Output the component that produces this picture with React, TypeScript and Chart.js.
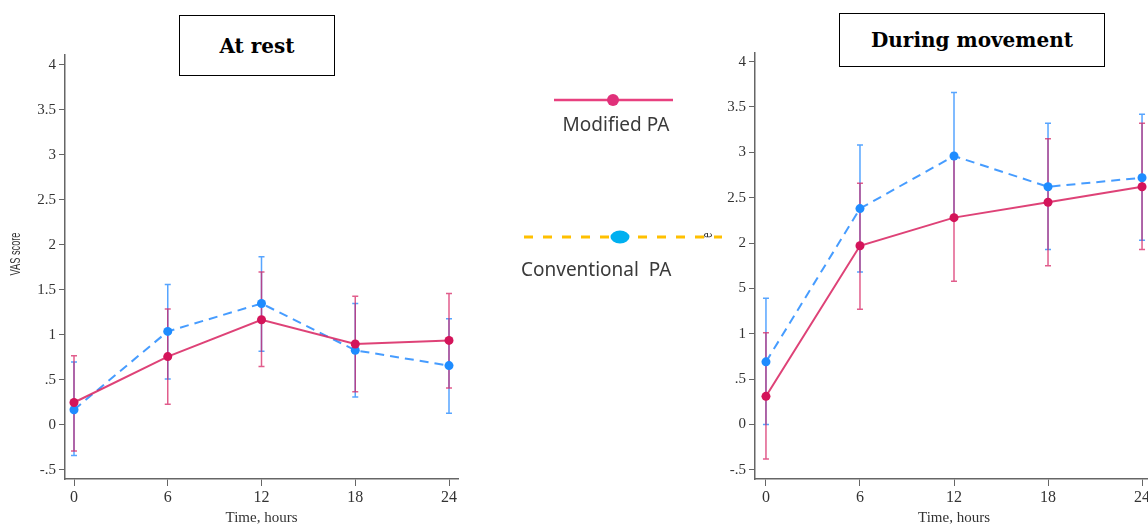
import React, { useEffect, useRef } from 'react';
import { Chart, registerables } from 'chart.js';

Chart.register(...registerables);

// ---------- data ----------
const hours = [0, 6, 12, 18, 24];
const xTickValues = [0, 6, 12, 18, 24];
const yTickValues = [-0.5, 0, 0.5, 1, 1.5, 2, 2.5, 3, 3.5, 4];
const yTickLabels = ['-.5', '0', '.5', '1', '1.5', '2', '2.5', '3', '3.5', '4'];
const seriesNames = ['Modified PA', 'Conventional  PA'];
const panelTitles = ['At rest', 'During movement'];
const xAxisTitle = 'Time, hours';
const yAxisTitle = 'VAS score';

// At rest
const restModified = [0.25, 0.76, 1.17, 0.9, 0.94];
const restModifiedLow = [-0.29, 0.23, 0.65, 0.37, 0.41];
const restModifiedHigh = [0.77, 1.29, 1.7, 1.43, 1.46];
const restConventional = [0.17, 1.04, 1.35, 0.83, 0.66];
const restConventionalLow = [-0.34, 0.51, 0.82, 0.31, 0.13];
const restConventionalHigh = [0.7, 1.56, 1.87, 1.35, 1.18];

// During movement
const moveModified = [0.31, 1.97, 2.28, 2.45, 2.62];
const moveModifiedLow = [-0.38, 1.27, 1.58, 1.75, 1.93];
const moveModifiedHigh = [1.01, 2.66, 2.98, 3.15, 3.32];
const moveConventional = [0.69, 2.38, 2.96, 2.62, 2.72];
const moveConventionalLow = [0.0, 1.68, 2.26, 1.93, 2.03];
const moveConventionalHigh = [1.39, 3.08, 3.66, 3.32, 3.42];

// ---------- styles ----------
const PINK_LINE = 'rgba(218, 40, 100, 0.88)';
const PINK_DOT = '#d4145a';
const PINK_ERR = 'rgba(214, 30, 95, 0.72)';
const BLUE_LINE = 'rgba(50, 145, 255, 0.9)';
const BLUE_DOT = '#1e8cff';
const BLUE_ERR = 'rgba(40, 140, 255, 0.78)';
const AXIS_COLOR = '#666';
const TEXT_COLOR = '#333';
const SERIF = '"Liberation Serif", "Times New Roman", serif';

const errorBarPlugin = {
  id: 'errorBars',
  beforeDatasetsDraw(chart: any, _args: any, opts: any) {
    const { ctx, scales } = chart;
    const x = scales.x;
    const y = scales.y;
    const bars = (opts && opts.bars) || [];
    ctx.save();
    ctx.lineWidth = 1.5;
    for (let b = bars.length - 1; b >= 0; b--) {
      const bar = bars[b];
      ctx.strokeStyle = bar.color;
      bar.x.forEach((xv: number, j: number) => {
        const px = x.getPixelForValue(xv);
        const yl = y.getPixelForValue(bar.low[j]);
        const yh = y.getPixelForValue(bar.high[j]);
        ctx.beginPath();
        ctx.moveTo(px, yl);
        ctx.lineTo(px, yh);
        ctx.moveTo(px - 3, yl);
        ctx.lineTo(px + 3, yl);
        ctx.moveTo(px - 3, yh);
        ctx.lineTo(px + 3, yh);
        ctx.stroke();
      });
    }
    ctx.restore();
  },
};

// rotated, condensed y-axis caption
const axisLabelPlugin = {
  id: 'axisLabel',
  afterDraw(chart: any, _args: any, opts: any) {
    if (!opts || !opts.text) return;
    const ctx = chart.ctx;
    ctx.save();
    ctx.translate(opts.x, opts.y);
    ctx.rotate(-Math.PI / 2);
    ctx.scale(opts.squeeze || 1, 1);
    ctx.font = opts.font;
    ctx.fillStyle = opts.color;
    ctx.textAlign = 'center';
    ctx.textBaseline = 'middle';
    ctx.fillText(opts.text, 0, 0);
    ctx.restore();
  },
};

type Geom = {
  xMin: number;
  xMax: number;
  yMin: number;
  yMax: number;
  padTop: number;
  padRight: number;
  axisWidth: number;
  labelX: number;
  labelY: number;
};

function makeConfig(
  mod: number[],
  modLow: number[],
  modHigh: number[],
  conv: number[],
  convLow: number[],
  convHigh: number[],
  g: Geom
): any {
  const gridOpts = {
    display: true,
    drawOnChartArea: false,
    drawTicks: true,
    color: AXIS_COLOR,
    lineWidth: 1,
  };
  return {
    type: 'line',
    data: {
      datasets: [
        {
          label: seriesNames[0],
          data: hours.map((h, i) => ({ x: h, y: mod[i] })),
          borderColor: PINK_LINE,
          borderWidth: 2,
          pointRadius: 4.5,
          pointHoverRadius: 4.5,
          pointBackgroundColor: PINK_DOT,
          pointBorderWidth: 0,
          fill: false,
          tension: 0,
        },
        {
          label: seriesNames[1],
          data: hours.map((h, i) => ({ x: h, y: conv[i] })),
          borderColor: BLUE_LINE,
          borderWidth: 2,
          borderDash: [9, 6],
          pointRadius: 4.5,
          pointHoverRadius: 4.5,
          pointBackgroundColor: BLUE_DOT,
          pointBorderWidth: 0,
          fill: false,
          tension: 0,
        },
      ],
    },
    options: {
      animation: false,
      responsive: false,
      maintainAspectRatio: false,
      devicePixelRatio: 1,
      events: [],
      layout: { padding: { top: g.padTop, right: g.padRight, left: 0, bottom: 0 } },
      plugins: {
        legend: { display: false },
        tooltip: { enabled: false },
        errorBars: {
          bars: [
            { x: hours, low: modLow, high: modHigh, color: PINK_ERR },
            { x: hours, low: convLow, high: convHigh, color: BLUE_ERR },
          ],
        },
        axisLabel: {
          text: yAxisTitle,
          x: g.labelX,
          y: g.labelY,
          squeeze: 0.66,
          font: '14px "Liberation Sans", Arial, sans-serif',
          color: TEXT_COLOR,
        },
      },
      scales: {
        x: {
          type: 'linear',
          min: g.xMin,
          max: g.xMax,
          afterBuildTicks: (s: any) => {
            s.ticks = xTickValues.map((v) => ({ value: v }));
          },
          afterFit: (s: any) => {
            s.height = 50;
          },
          ticks: {
            font: { family: SERIF, size: 16 },
            color: TEXT_COLOR,
            padding: 2,
            maxRotation: 0,
            autoSkip: false,
            callback: (v: any) => String(v),
          },
          grid: { ...gridOpts, tickLength: 7 },
          border: { display: true, color: AXIS_COLOR, width: 1.5 },
          title: {
            display: true,
            text: xAxisTitle,
            font: { family: SERIF, size: 15 },
            color: TEXT_COLOR,
            padding: { top: 0, bottom: 2 },
          },
        },
        y: {
          type: 'linear',
          min: g.yMin,
          max: g.yMax,
          afterBuildTicks: (s: any) => {
            s.ticks = yTickValues.map((v) => ({ value: v }));
          },
          afterFit: (s: any) => {
            s.width = g.axisWidth;
          },
          ticks: {
            font: { family: SERIF, size: 15 },
            color: TEXT_COLOR,
            padding: 3,
            autoSkip: false,
            callback: (v: any) => {
              const i = yTickValues.findIndex((t) => Math.abs(t - Number(v)) < 1e-9);
              return i >= 0 ? yTickLabels[i] : '';
            },
          },
          grid: { ...gridOpts, tickLength: 6 },
          border: { display: true, color: AXIS_COLOR, width: 1.5 },
          title: { display: false },
        },
      },
    },
    plugins: [errorBarPlugin, axisLabelPlugin],
  };
}

function ChartCanvas(props: { left: number; top: number; width: number; height: number; config: any }) {
  const ref = useRef<HTMLCanvasElement | null>(null);
  useEffect(() => {
    if (!ref.current) return;
    const chart = new Chart(ref.current, props.config);
    return () => chart.destroy();
  }, []);
  return (
    <canvas
      ref={ref}
      width={props.width}
      height={props.height}
      style={{
        position: 'absolute',
        left: props.left,
        top: props.top,
        width: props.width,
        height: props.height,
      }}
    />
  );
}

function TitleBox(props: { left: number; top: number; width: number; height: number; text: string }) {
  return (
    <div
      style={{
        position: 'absolute',
        left: props.left,
        top: props.top,
        width: props.width,
        height: props.height,
        boxSizing: 'border-box',
        border: '1.5px solid #000',
        background: '#fff',
        display: 'flex',
        alignItems: 'center',
        justifyContent: 'center',
        fontFamily: '"DejaVu Serif", serif',
        fontWeight: 700,
        fontSize: 20,
        color: '#000',
      }}
    >
      {props.text}
    </div>
  );
}

const restGeom: Geom = {
  xMin: -0.576,
  xMax: 24.576,
  yMin: -0.6,
  yMax: 4.111,
  padTop: 55,
  padRight: 12,
  axisWidth: 65,
  labelX: 16,
  labelY: 254,
};

const moveGeom: Geom = {
  xMin: -0.7,
  xMax: 24.7,
  yMin: -0.6015,
  yMax: 4.095,
  padTop: 53,
  padRight: 12,
  axisWidth: 65,
  labelX: 18,
  labelY: 254,
};

export default function App() {
  const restConfig = makeConfig(
    restModified,
    restModifiedLow,
    restModifiedHigh,
    restConventional,
    restConventionalLow,
    restConventionalHigh,
    restGeom
  );
  const moveConfig = makeConfig(
    moveModified,
    moveModifiedLow,
    moveModifiedHigh,
    moveConventional,
    moveConventionalLow,
    moveConventionalHigh,
    moveGeom
  );
  const legendFont = '"Noto Sans", "Open Sans", sans-serif';
  return (
    <div
      style={{
        position: 'fixed',
        left: 0,
        top: 0,
        width: 1148,
        height: 529,
        background: '#fff',
        overflow: 'hidden',
      }}
    >
      <ChartCanvas left={0} top={0} width={470} height={529} config={restConfig} />
      <ChartCanvas left={690} top={0} width={475} height={529} config={moveConfig} />

      <TitleBox left={179} top={15} width={156} height={61} text={panelTitles[0]} />
      <TitleBox left={839} top={13} width={266} height={54} text={panelTitles[1]} />

      {/* legend panel (its white background partly hides the right panel's axis labels) */}
      <div style={{ position: 'absolute', left: 505, top: 238, width: 212, height: 52, background: '#fff' }} />
      <div style={{ position: 'absolute', left: 725, top: 281, width: 14, height: 17, background: '#fff' }} />
      <svg
        width={260}
        height={200}
        style={{ position: 'absolute', left: 500, top: 80, overflow: 'visible' }}
      >
        <line x1={54} y1={20} x2={173} y2={20} stroke="#e8407f" strokeWidth={2.5} />
        <circle cx={113} cy={20} r={6} fill="#e0307a" />
        <line
          x1={24}
          y1={157}
          x2={222}
          y2={157}
          stroke="#ffc000"
          strokeWidth={3}
          strokeDasharray="9 10"
        />
        <ellipse cx={120} cy={157} rx={9.5} ry={6.5} fill="#00b0f0" />
      </svg>
      <div
        style={{
          position: 'absolute',
          left: 516,
          top: 111,
          width: 200,
          textAlign: 'center',
          fontFamily: legendFont,
          fontSize: 19,
          color: '#3a3a3a',
          whiteSpace: 'pre',
          lineHeight: '26px',
        }}
      >
        {seriesNames[0]}
      </div>
      <div
        style={{
          position: 'absolute',
          left: 521,
          top: 256,
          fontFamily: legendFont,
          fontSize: 19,
          color: '#3a3a3a',
          whiteSpace: 'pre',
          lineHeight: '26px',
        }}
      >
        {seriesNames[1]}
      </div>
    </div>
  );
}
